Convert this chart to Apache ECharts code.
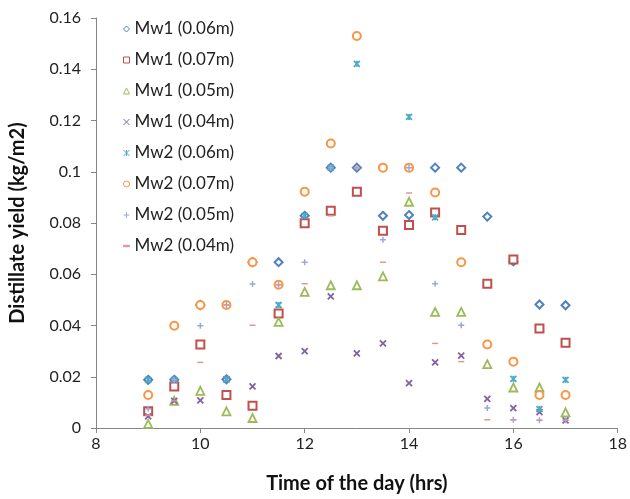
<!DOCTYPE html>
<html>
<head>
<meta charset="utf-8">
<script src="https://cdn.jsdelivr.net/npm/echarts@6/dist/echarts.min.js"></script>
<style>
  html, body { margin: 0; padding: 0; background: #fff; }
  #chart { width: 630px; height: 499px; }
</style>
</head>
<body>
<div id="chart"></div>
<script>
// Time of day (hrs)
const hours = [9, 9.5, 10, 10.5, 11, 11.5, 12, 12.5, 13, 13.5, 14, 14.5, 15, 15.5, 16, 16.5, 17];

// Distillate yield (kg/m2) per configuration
const mw1_006 = [0.0188, 0.0188, 0.048, 0.019, 0.0647, 0.0647, 0.0828, 0.1016, 0.1016, 0.0828, 0.0831, 0.1016, 0.1016, 0.0825, 0.065, 0.0482, 0.0479];
const mw1_007 = [0.0065, 0.0162, 0.0326, 0.0129, 0.0087, 0.0447, 0.0799, 0.0848, 0.0922, 0.077, 0.0792, 0.0841, 0.0773, 0.0563, 0.0658, 0.0388, 0.0333];
const mw1_005 = [0.0016, 0.0106, 0.0145, 0.0065, 0.0039, 0.0414, 0.0531, 0.0557, 0.0557, 0.0592, 0.0883, 0.0453, 0.0453, 0.0249, 0.0158, 0.0158, 0.0061];
const mw1_004 = [0.0045, 0.0106, 0.0108, 0.019, 0.0162, 0.0281, 0.030, 0.0514, 0.0291, 0.033, 0.0175, 0.0256, 0.0282, 0.0114, 0.0078, 0.0062, 0.003];
const mw2_006 = [0.0188, 0.0188, 0.048, 0.019, 0.0647, 0.048, 0.0828, 0.1016, 0.1421, 0.1016, 0.1214, 0.0822, 0.0647, 0.0326, 0.0192, 0.0074, 0.0188];
const mw2_007 = [0.0129, 0.0399, 0.048, 0.048, 0.0647, 0.0559, 0.0922, 0.111, 0.153, 0.1016, 0.1016, 0.0919, 0.0647, 0.0326, 0.0259, 0.0129, 0.0129];
const mw2_005 = [0.0075, 0.0188, 0.0399, 0.048, 0.0562, 0.0559, 0.0647, 0.1016, 0.1016, 0.0735, 0.1016, 0.0563, 0.0401, 0.0078, 0.0032, 0.003, 0.003];
const mw2_004 = [0.005, 0.0106, 0.0256, 0.048, 0.0401, 0.0559, 0.0563, 0.0828, 0.1016, 0.0647, 0.0917, 0.033, 0.0259, 0.0032, 0.0032, 0.003, 0.003];

const seriesNames = ['Mw1 (0.06m)', 'Mw1 (0.07m)', 'Mw1 (0.05m)', 'Mw1 (0.04m)', 'Mw2 (0.06m)', 'Mw2 (0.07m)', 'Mw2 (0.05m)', 'Mw2 (0.04m)'];
const seriesValues = [mw1_006, mw1_007, mw1_005, mw1_004, mw2_006, mw2_007, mw2_005, mw2_004];

// Marker look per series: hollow outlines or stroked line glyphs
const X_PATH = 'path://M0,0L10,10M10,0L0,10';
const STAR_PATH = 'path://M0,0L10,10M10,0L0,10M5,0L5,10';
const PLUS_PATH = 'path://M5,0L5,10M0,5L10,5';
const DASH_PATH = 'path://M0,0L10,0L10,2.4L0,2.4Z';
const markerStyles = [
  { symbol: 'diamond', size: 8, stroke: '#4F81BD', fill: '#fff', width: 2 },
  { symbol: 'rect', size: 8, stroke: '#C0504D', fill: '#fff', width: 2 },
  { symbol: 'triangle', size: 8, stroke: '#9BBB59', fill: '#fff', width: 1.8 },
  { symbol: X_PATH, size: 6, stroke: '#8064A2', fill: 'none', width: 1.8 },
  { symbol: STAR_PATH, size: 6, stroke: '#4BACC6', fill: 'none', width: 1.8 },
  { symbol: 'circle', size: 8, stroke: '#F79646', fill: '#fff', width: 2 },
  { symbol: PLUS_PATH, size: 6, stroke: '#9AA8DA', fill: 'none', width: 1.5 },
  { symbol: DASH_PATH, size: 6, stroke: '#D99694', fill: '#D99694', width: 0 }
];

const series = seriesNames.map((name, i) => {
  const m = markerStyles[i];
  return {
    name: name,
    type: 'scatter',
    symbol: m.symbol,
    symbolSize: m.size,
    symbolKeepAspect: true,
    itemStyle: { color: m.fill, borderColor: m.stroke, borderWidth: m.width, opacity: 1 },
    data: hours.map((h, j) => [h, seriesValues[i][j]])
  };
});

const FONT = 'Lato, "Liberation Sans", sans-serif';
const chart = echarts.init(document.getElementById('chart'), null, { renderer: 'canvas' });
chart.setOption({
  animation: false,
  backgroundColor: '#fff',
  grid: { left: 96, right: 8, top: 18, bottom: 69, containLabel: false },
  legend: {
    orient: 'vertical',
    left: 116,
    top: 15,
    itemWidth: 6,
    itemHeight: 6,
    itemGap: 13,
    symbolKeepAspect: true,
    textStyle: { fontFamily: FONT, fontSize: 17, color: '#222', lineHeight: 18, padding: [0, 0, 0, 0] },
    data: seriesNames.map((n, i) => ({
      name: n,
      icon: markerStyles[i].symbol,
      itemStyle: { color: markerStyles[i].fill, borderColor: markerStyles[i].stroke, borderWidth: 1 }
    }))
  },
  xAxis: {
    type: 'value',
    min: 8,
    max: 18,
    interval: 2,
    name: 'Time of the day (hrs)',
    nameLocation: 'middle',
    nameGap: 46,
    nameTextStyle: { fontFamily: FONT, fontSize: 20, fontWeight: 'bold', color: '#111' },
    axisLine: { lineStyle: { color: '#868686', width: 1 } },
    axisTick: { show: true, inside: false, length: 5, lineStyle: { color: '#868686' } },
    axisLabel: { fontFamily: FONT, fontSize: 16, color: '#222', margin: 8 },
    splitLine: { show: false }
  },
  yAxis: {
    type: 'value',
    min: 0,
    max: 0.16,
    interval: 0.02,
    name: 'Distillate yield (kg/m2)',
    nameLocation: 'middle',
    nameGap: 68,
    nameTextStyle: { fontFamily: FONT, fontSize: 20, fontWeight: 'bold', color: '#111' },
    axisLine: { show: true, lineStyle: { color: '#868686', width: 1 } },
    axisTick: { show: true, inside: false, length: 5, lineStyle: { color: '#868686' } },
    axisLabel: { fontFamily: FONT, fontSize: 16, color: '#222', margin: 15 },
    splitLine: { show: false }
  },
  series: series
});
</script>
</body>
</html>
